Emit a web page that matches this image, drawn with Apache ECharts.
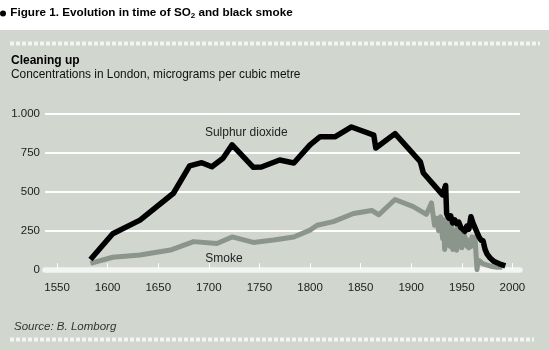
<!DOCTYPE html>
<html>
<head>
<meta charset="utf-8">
<script src="https://cdn.jsdelivr.net/npm/echarts@6/dist/echarts.min.js"></script>
<style>
  html, body { margin: 0; padding: 0; background: #ffffff; }
  #chart {
    width: 549px; height: 350px;
    background: linear-gradient(to bottom, #ffffff 0px, #ffffff 30px, #d1d6cf 30px, #d1d6cf 350px);
  }
</style>
</head>
<body>
<div id="chart"></div>
<script>
// Concentrations in London, micrograms per cubic metre
const so2Years = [1583, 1605, 1632, 1665, 1681, 1693, 1703, 1714, 1723, 1744, 1752, 1770, 1784, 1800,
  1810, 1825, 1841, 1863, 1865, 1884, 1909, 1912, 1931, 1934, 1935, 1937, 1939, 1941, 1943, 1945,
  1947, 1949, 1951, 1953, 1955, 1957, 1959, 1961, 1963, 1965, 1967, 1969, 1971, 1973, 1975, 1978,
  1982, 1987, 1993];
const so2Values = [65, 230, 318, 490, 665, 686, 660, 714, 800, 656, 658, 703, 684, 800,
  853, 853, 915, 863, 780, 872, 692, 620, 480, 540, 360, 330, 345, 300, 320, 295,
  305, 270, 260, 245, 280, 260, 340, 300, 270, 240, 210, 190, 185, 130, 100, 75,
  52, 38, 25];

const smokeYears = [1583, 1605, 1632, 1662, 1685, 1708, 1723, 1744, 1764, 1784, 1800, 1807, 1823,
  1843, 1861, 1868, 1884, 1902, 1915, 1920, 1923, 1925, 1927, 1929, 1931, 1932, 1933, 1935, 1936,
  1938, 1940, 1941, 1943, 1944, 1945, 1946, 1947, 1948, 1949, 1950, 1951, 1952, 1953, 1955, 1956,
  1957, 1959, 1960, 1962, 1963, 1965, 1966, 1968, 1970, 1975, 1980, 1985, 1990];
const smokeValues = [40, 80, 94, 126, 180, 168, 210, 175, 190, 210, 254, 285, 308,
  360, 380, 352, 450, 404, 355, 428, 285, 330, 250, 340, 200, 320, 130, 260, 300,
  150, 280, 130, 250, 200, 125, 290, 200, 150, 260, 140, 240, 170, 215, 150, 190,
  140, 150, 210, 150, 210, 0, 60, 55, 40, 30, 20, 15, 15];

const yearTicks = [1550, 1600, 1650, 1700, 1750, 1800, 1850, 1900, 1950, 2000];

const pairs = (xs, ys) => xs.map((x, i) => [x, ys[i]]);

const FONT = '"Liberation Sans", Arial, Helvetica, sans-serif';

const chart = echarts.init(document.getElementById('chart'), null, { renderer: 'canvas' });

chart.setOption({
  backgroundColor: 'transparent',
  animation: false,
  textStyle: { fontFamily: FONT },
  grid: { left: 45, right: 29, top: 113.7, bottom: 80.3, containLabel: false },
  xAxis: {
    type: 'value',
    min: 1538.1,
    max: 2007.5,
    offset: 3,
    axisLine: { show: true, lineStyle: { color: '#f3f5f2', width: 5.5 } },
    axisTick: { show: true, inside: true, length: 6.5, customValues: yearTicks,
      lineStyle: { color: '#ffffff', width: 1 } },
    axisLabel: { customValues: yearTicks, margin: 9, fontSize: 11.5, color: '#222222', fontFamily: FONT,
      formatter: v => String(v) },
    splitLine: { show: false }
  },
  yAxis: {
    type: 'value',
    min: 0,
    max: 1000,
    interval: 250,
    axisLine: { show: false },
    axisTick: { show: false },
    axisLabel: {
      margin: 5, fontSize: 11.5, color: '#222222', fontFamily: FONT,
      formatter: v => v === 1000 ? '1.000' : String(v)
    },
    splitLine: { show: true, lineStyle: { color: '#ffffff', width: 1.8 } }
  },
  series: [
    {
      name: 'Smoke',
      type: 'line',
      data: pairs(smokeYears, smokeValues),
      showSymbol: false,
      symbol: 'none',
      lineStyle: { color: '#8c958c', width: 5, join: 'round' },
      z: 3,
      markPoint: {
        symbol: 'circle', symbolSize: 1,
        itemStyle: { color: 'transparent' },
        label: { show: true, position: 'inside', formatter: 'Smoke', color: '#222222', fontSize: 12, fontFamily: FONT },
        data: [{ coord: [1715, 69] }]
      }
    },
    {
      name: 'Sulphur dioxide',
      type: 'line',
      data: pairs(so2Years, so2Values),
      showSymbol: false,
      symbol: 'none',
      lineStyle: { color: '#000000', width: 5.5, join: 'round' },
      z: 4,
      markPoint: {
        symbol: 'circle', symbolSize: 1,
        itemStyle: { color: 'transparent' },
        label: { show: true, position: 'inside', formatter: 'Sulphur dioxide', color: '#222222', fontSize: 12, fontFamily: FONT },
        data: [{ coord: [1737, 876] }]
      }
    }
  ],
  graphic: [
    {
      // heading bullet
      type: 'circle',
      shape: { cx: 3, cy: 13.5, r: 3 },
      style: { fill: '#000' }
    },
    {
      type: 'text', left: 7, top: 5,
      style: {
        text: '{t| Figure 1. Evolution in time of SO}{s|2}{t| and black smoke}',
        rich: {
          t: { fontSize: 11.7, fontWeight: 'bold', fontFamily: FONT, fill: '#000', lineHeight: 16 },
          s: { fontSize: 8, fontWeight: 'bold', fontFamily: FONT, fill: '#000', lineHeight: 16, padding: [7, 0, 0, 0] }
        }
      }
    },
    {
      type: 'line',
      shape: { x1: 10, y1: 43.5, x2: 540, y2: 43.5 },
      style: { stroke: '#f2f5f1', lineWidth: 4, lineDash: [4, 2] }
    },
    {
      type: 'text', left: 11, top: 55,
      style: { text: 'Cleaning up', fontSize: 12, fontWeight: 'bold', fontFamily: FONT, fill: '#000' }
    },
    {
      type: 'text', left: 11, top: 69,
      style: { text: 'Concentrations in London, micrograms per cubic metre', fontSize: 11.9, fontFamily: FONT, fill: '#111' }
    },
    {
      type: 'text', left: 14, top: 321,
      style: { text: 'Source: B. Lomborg', fontSize: 11.5, fontStyle: 'italic', fontFamily: FONT, fill: '#333' }
    },
    {
      type: 'line',
      shape: { x1: 10, y1: 339.5, x2: 534, y2: 339.5 },
      style: { stroke: '#f2f5f1', lineWidth: 4, lineDash: [4, 2] }
    }
  ]
});
</script>
</body>
</html>
